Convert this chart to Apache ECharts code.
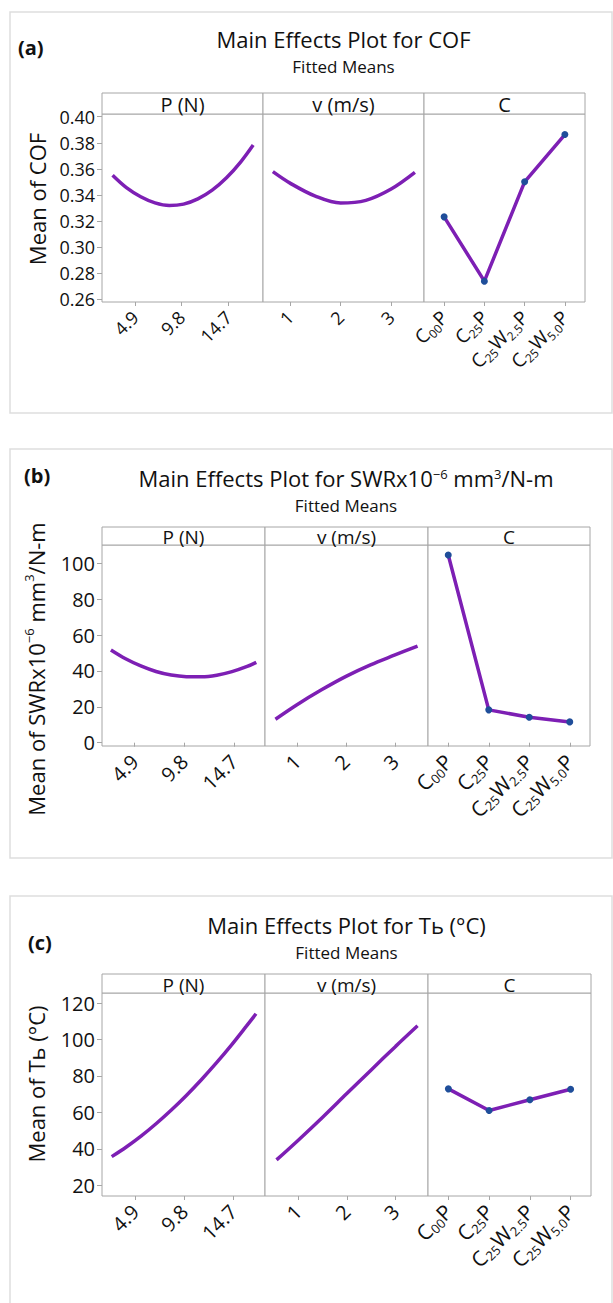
<!DOCTYPE html>
<html>
<head>
<meta charset="utf-8">
<title>Main Effects Plots</title>
<script src="https://cdn.jsdelivr.net/npm/echarts@6/dist/echarts.min.js"></script>
<style>
  html, body { margin: 0; padding: 0; background: #fff; }
  #chart { width: 613px; height: 1303px; }
</style>
</head>
<body>
<div id="chart"></div>
<script>
// ---- data ----
const pTicks = [4.9, 9.8, 14.7];
const vTicks = [1, 2, 3];
const cLevels = ['C00P', 'C25P', 'C25W2.5P', 'C25W5.0P'];

// (a) COF
const cofPX = [2.55, 4, 5.5, 7, 8.5, 10, 11.5, 13, 14.5, 16, 17.3];
const cofP = [0.3550, 0.3455, 0.3385, 0.3338, 0.3318, 0.3329, 0.3369, 0.3436, 0.3531, 0.3654, 0.3783];
const cofVX = [0.66, 1, 1.5, 2, 2.5, 3, 3.47];
const cofV = [0.3578, 0.3490, 0.3390, 0.3337, 0.3358, 0.3445, 0.3573];
const cofC = [0.3231, 0.2737, 0.3500, 0.3863];
const cofTicks = [0.26, 0.28, 0.30, 0.32, 0.34, 0.36, 0.38, 0.40];

// (b) SWR
const swrPX = [2.55, 4, 5.5, 7, 8.5, 10, 11.5, 13, 14.5, 16, 16.9];
const swrP = [51.7, 46.8, 42.8, 39.7, 37.7, 36.8, 36.7, 37.6, 39.6, 42.5, 44.8];
const swrVX = [0.56, 1, 1.5, 2, 2.5, 3, 3.46];
const swrV = [13.1, 21.2, 29.5, 37.0, 43.4, 48.9, 53.9];
const swrC = [104.6, 18.3, 14.2, 11.6];
const swrTicks = [0, 20, 40, 60, 80, 100];

// (c) Tb
const tbPX = [2.54, 4, 5.5, 7, 8.5, 10, 11.5, 13, 14.5, 16, 16.96];
const tbP = [35.7, 41.0, 47.1, 53.9, 61.3, 69.3, 77.9, 87.1, 96.9, 107.3, 114.1];
const tbVX = [0.56, 1, 1.5, 2, 2.5, 3, 3.45];
const tbV = [33.9, 44.6, 57.2, 70.3, 83.3, 96.2, 107.5];
const tbC = [72.9, 61.0, 66.9, 72.7];
const tbTicks = [20, 40, 60, 80, 100, 120];

// ---- layout ----
const FONT = '"Open Sans", "Noto Sans", sans-serif';
const PURPLE = '#7d1fb4';
const DOT = '#1f4e9a';
const FRAME = '#a6a6a6';
const TXT = '#111';

const cRich = [
  '{n|C}{s|00}{n|P}',
  '{n|C}{s|25}{n|P}',
  '{n|C}{s|25}{n|W}{s|2.5}{n|P}',
  '{n|C}{s|25}{n|W}{s|5.0}{n|P}'
];

const panels = [
  {
    tag: '(a)', tagX: 18, tagY: 47, box: [10, 12, 602, 401],
    title: '{n|Main Effects Plot for COF}', titleY: 28, subY: 56,
    yName: '{n|Mean of COF}', yNameX: 37, yNameY: 199, nameSize: 22,
    stripTop: 93, top: 114, bottom: 302, xs: [102, 263, 424, 585],
    tickSize: 18, stripSize: 20, subSize: 12,
    yMin: 0.2577, yMax: 0.4021, yTicks: cofTicks, yFmt: v => v.toFixed(2),
    pRange: [1.44, 18.33], vRange: [0.465, 3.65],
    pX: cofPX, p: cofP, vX: cofVX, v: cofV, c: cofC
  },
  {
    tag: '(b)', tagX: 24, tagY: 475, box: [10, 449, 602, 409],
    title: '{n|Main Effects Plot for SWRx10}{sup|\u22126}{n| mm}{sup|3}{n|/N-m}', titleY: 467, subY: 495,
    yName: '{n|Mean of SWRx10}{sup|\u22126}{n| mm}{sup|3}{n|/N-m}', yNameX: 36, yNameY: 669, nameSize: 22,
    stripTop: 527, top: 545, bottom: 746, xs: [102, 265, 428, 590],
    tickSize: 20, stripSize: 19, subSize: 13,
    yMin: -1.84, yMax: 110.2, yTicks: swrTicks, yFmt: v => String(v),
    pRange: [1.67, 17.76], vRange: [0.347, 3.673],
    pX: swrPX, p: swrP, vX: swrVX, v: swrV, c: swrC
  },
  {
    tag: '(c)', tagX: 28, tagY: 942, box: [10, 896, 602, 420],
    title: '{n|Main Effects Plot for T\u044C (\u00B0C)}', titleY: 914, subY: 942,
    yName: '{n|Mean of T\u044C (\u00B0C)}', yNameX: 36, yNameY: 1084, nameSize: 22,
    stripTop: 974, top: 993, bottom: 1196, xs: [102, 265, 428, 591],
    tickSize: 20, stripSize: 19, subSize: 13,
    yMin: 14.1, yMax: 125.5, yTicks: tbTicks, yFmt: v => String(v),
    pRange: [1.57, 17.86], vRange: [0.324, 3.664],
    pX: tbPX, p: tbP, vX: tbVX, v: tbV, c: tbC
  }
];

const stripNames = ['P (N)', 'v (m/s)', 'C'];

const grid = [], xAxis = [], yAxis = [], series = [], title = [], graphic = [];

function zip(xs, ys) {
  return xs.map((x, i) => [x, ys[i]]);
}

function supStyles(size, lh, color) {
  return {
    n: { fontSize: size, lineHeight: lh, fontFamily: FONT, color: color, fill: color },
    sup: { fontSize: Math.round(size * 0.6), lineHeight: Math.round(lh * 0.6), verticalAlign: 'top',
           fontFamily: FONT, color: color, fill: color }
  };
}

panels.forEach((pn, k) => {
  // light frame around the whole sub-figure
  graphic.push({
    type: 'rect', silent: true,
    shape: { x: pn.box[0], y: pn.box[1], width: pn.box[2], height: pn.box[3] },
    style: { fill: 'none', stroke: '#dedede', lineWidth: 1.5 }
  });
  graphic.push({
    type: 'text', x: pn.tagX, y: pn.tagY, silent: true,
    style: { text: pn.tag, fontSize: 20, fontWeight: 'bold', fontFamily: FONT, fill: TXT,
             align: 'left', verticalAlign: 'middle', textAlign: 'left', textVerticalAlign: 'middle' }
  });
  // y-axis title, placed like Minitab does (not exactly centred on the plot)
  graphic.push({
    type: 'text', x: pn.yNameX, y: pn.yNameY, rotation: Math.PI / 2, silent: true,
    style: { text: pn.yName, fontSize: pn.nameSize, fontFamily: FONT, fill: TXT,
             align: 'center', verticalAlign: 'middle', textAlign: 'center', textVerticalAlign: 'middle',
             rich: supStyles(pn.nameSize, 28, TXT) }
  });

  const cx = (pn.xs[0] + pn.xs[3]) / 2;
  title.push({
    text: pn.title, left: cx, top: pn.titleY, textAlign: 'center', padding: 0,
    textStyle: { fontSize: 22, fontWeight: 'normal', lineHeight: 22, fontFamily: FONT, color: TXT,
                 rich: supStyles(22, 22, TXT) }
  });
  title.push({
    text: 'Fitted Means', left: cx, top: pn.subY, textAlign: 'center', padding: 0,
    textStyle: { fontSize: 17, fontWeight: 'normal', lineHeight: 20, fontFamily: FONT, color: TXT }
  });

  for (let j = 0; j < 3; j++) {
    const gi = k * 3 + j;
    const left = pn.xs[j], width = pn.xs[j + 1] - pn.xs[j];

    // strip header
    graphic.push({
      type: 'rect', silent: true,
      shape: { x: left, y: pn.stripTop, width: width, height: pn.top - pn.stripTop },
      style: { fill: '#fff', stroke: FRAME, lineWidth: 1 }
    });
    graphic.push({
      type: 'text', x: left + width / 2, y: (pn.stripTop + pn.top) / 2 + 1, silent: true,
      style: { text: stripNames[j], fontSize: pn.stripSize, fontFamily: FONT, fill: TXT,
               align: 'center', verticalAlign: 'middle', textAlign: 'center', textVerticalAlign: 'middle' }
    });

    grid.push({
      left: left, top: pn.top, width: width, height: pn.bottom - pn.top,
      show: true, borderColor: FRAME, borderWidth: 1, backgroundColor: '#fff'
    });

    yAxis.push({
      gridIndex: gi, type: 'value', min: pn.yMin, max: pn.yMax, show: j === 0,
      axisLine: { show: false },
      splitLine: { show: false },
      axisTick: { show: true, length: 5, customValues: pn.yTicks, lineStyle: { color: FRAME } },
      axisLabel: { customValues: pn.yTicks, formatter: pn.yFmt, fontSize: pn.tickSize,
                   fontFamily: FONT, color: TXT, margin: 7 }
    });

    const labelBase = { rotate: 45, fontSize: pn.tickSize, fontFamily: FONT, color: TXT, margin: 12 };
    if (j < 2) {
      const range = j === 0 ? pn.pRange : pn.vRange;
      const ticks = j === 0 ? pTicks : vTicks;
      xAxis.push({
        gridIndex: gi, type: 'value', min: range[0], max: range[1],
        axisLine: { show: false },
        splitLine: { show: false },
        axisTick: { show: true, length: 4, customValues: ticks, lineStyle: { color: FRAME } },
        axisLabel: Object.assign({ customValues: ticks, formatter: v => String(v) }, labelBase)
      });
      series.push({
        type: 'line', xAxisIndex: gi, yAxisIndex: gi, smooth: 0.35,
        showSymbol: false, symbol: 'none',
        lineStyle: { color: PURPLE, width: 3.5 },
        data: j === 0 ? zip(pn.pX, pn.p) : zip(pn.vX, pn.v)
      });
    } else {
      xAxis.push({
        gridIndex: gi, type: 'category', data: cLevels, boundaryGap: true,
        axisLine: { show: false },
        splitLine: { show: false },
        axisTick: { show: true, length: 4, alignWithLabel: true, interval: 0, lineStyle: { color: FRAME } },
        axisLabel: Object.assign({
          interval: 0,
          formatter: (val, i) => cRich[i],
          rich: {
            n: { fontSize: pn.tickSize + 1, lineHeight: 24, fontFamily: FONT, color: TXT },
            s: { fontSize: pn.subSize, lineHeight: 15, verticalAlign: 'bottom', fontFamily: FONT, color: TXT }
          }
        }, labelBase)
      });
      series.push({
        type: 'line', xAxisIndex: gi, yAxisIndex: gi,
        symbol: 'circle', symbolSize: 7,
        itemStyle: { color: DOT },
        lineStyle: { color: PURPLE, width: 3.5 },
        data: pn.c
      });
    }
  }
});

const chart = echarts.init(document.getElementById('chart'), null, { renderer: 'svg' });
chart.setOption({
  backgroundColor: '#fff',
  animation: false,
  title: title,
  grid: grid,
  xAxis: xAxis,
  yAxis: yAxis,
  series: series,
  graphic: { elements: graphic }
});
</script>
</body>
</html>
